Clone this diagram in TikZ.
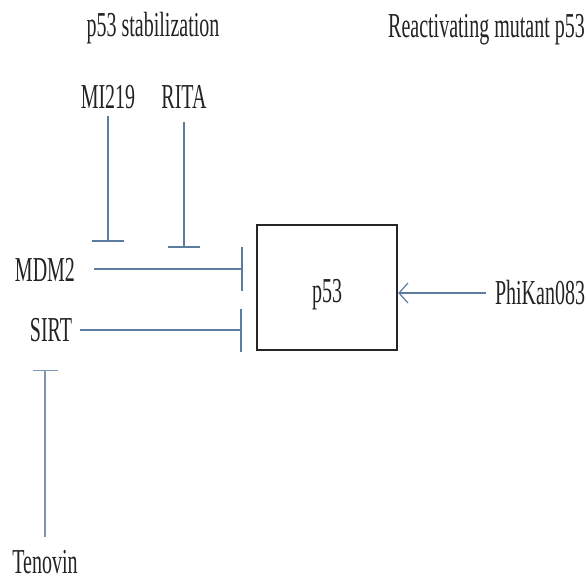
\documentclass[tikz,border=0pt]{standalone}
\usepackage{fontspec}
\setmainfont{Liberation Serif}
\usepackage{graphicx}
\usetikzlibrary{arrows.meta}
\definecolor{lnblue}{RGB}{92,124,160}
\definecolor{txtc}{RGB}{35,35,35}
\newcommand\tx[1]{\scalebox{1}[1.75]{#1}}
\begin{document}
\begin{tikzpicture}[x=1pt,y=-1pt,
  lbl/.style={inner sep=0pt,text=txtc,font=\fontsize{20}{24}\selectfont},
  inh/.style={draw=lnblue,line width=1.6pt},
  boxst/.style={draw=black!85,line width=2.4pt,minimum width=140pt,minimum height=125pt,inner sep=0pt}]
\useasboundingbox (0,0) rectangle (587,582);
\node[lbl] (stab) at (153,28) {\tx{p53 stabilization}};
\node[lbl,anchor=east] (react) at (585,30) {\tx{Reactivating mutant p53}};
\node[lbl] (mi) at (108,97) {\tx{MI219}};
\node[lbl] (rita) at (184,97) {\tx{RITA}};
\node[lbl] (mdm) at (45,270) {\tx{MDM2}};
\node[lbl] (sirt) at (51,330) {\tx{SIRT}};
\node[lbl] (ten) at (45,562) {\tx{Tenovin}};
\node[lbl] (phi) at (540,293) {\tx{PhiKan083}};
\node[boxst] (p53) at (327,287.5) {};
\node[lbl] (p53t) at (327,295) {\tx{p53}};
\coordinate (mib) at (108,242);
\coordinate (ritab) at (184,248);
\coordinate (mdmb) at (243,269);
\coordinate (sirtb) at (242,330);
\coordinate (tenb) at (45,370);
\draw[inh,-{Bar[width=32pt]}] (mi.south) ++(0,7) -- (mib);
\draw[inh,-{Bar[width=32pt]}] (rita.south) ++(0,13) -- (ritab);
\draw[inh,-{Bar[width=44pt]}] (mdm.east) ++(19,-1) -- (mdmb);
\draw[inh,-{Bar[width=43pt]}] (sirt.east) ++(8,0) -- (sirtb);
\draw[inh,line width=1.4pt,-{Bar[width=25pt]},draw=lnblue!80] (ten.north) ++(0,-13) -- (tenb);
\draw[inh,line width=1.4pt,-{Straight Barb[length=9pt,width=20pt,line width=1.2pt]}] (phi.west) ++(-9,0) -- (p53.east |- phi.west);
\end{tikzpicture}
\end{document}
